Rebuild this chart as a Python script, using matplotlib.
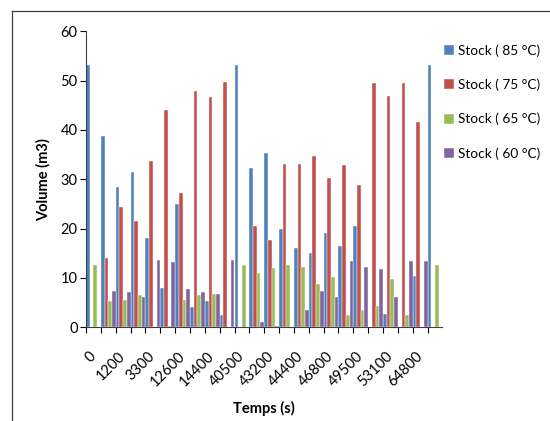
import numpy as np
import matplotlib
matplotlib.use('Agg')
import matplotlib.pyplot as plt
from matplotlib.lines import Line2D

plt.rcParams['font.family'] = ['Lato', 'DejaVu Sans']

# 24 categories, Excel only labels every other one
temps_labels = ['0', '1200', '3300', '12600', '14400', '40500',
                '43200', '44400', '46800', '49500', '53100', '64800']

stock_85 = [53.1, 38.7, 28.4, 31.4, 18.2, 7.9, 25.0, 4.2, 5.3, 2.4, 53.1, 32.3,
            35.3, 19.9, 16.1, 15.0, 19.1, 16.4, 20.5, 0, 2.6, 0, 10.3, 53.1]
stock_75 = [0, 14.1, 24.4, 21.5, 33.7, 44.1, 27.3, 47.9, 46.7, 49.7, 0, 20.5,
            17.7, 33.2, 33.2, 34.7, 30.2, 32.8, 28.8, 49.6, 46.9, 49.6, 41.7, 0]
stock_65 = [12.6, 5.3, 5.5, 6.5, 0, 0.3, 5.5, 6.5, 6.8, 0, 12.6, 11.1,
            12.0, 12.6, 12.3, 8.8, 10.1, 2.4, 3.5, 4.4, 9.7, 2.4, 0, 12.6]
stock_60 = [0, 7.4, 7.1, 6.2, 13.6, 13.2, 7.7, 7.1, 6.8, 13.6, 0, 1.1,
            0.3, 0, 3.5, 7.4, 6.2, 13.5, 12.3, 11.8, 6.2, 13.5, 13.5, 0]

series = [stock_85, stock_75, stock_65, stock_60]
names = ['Stock ( 85 °C)', 'Stock ( 75 °C)', 'Stock ( 65 °C)', 'Stock ( 60 °C)']
colors = ['#4F81BD', '#C0504D', '#9BBB59', '#8064A2']

fig = plt.figure(figsize=(5.5, 4.21), dpi=100)
ax = fig.add_axes([86 / 550, 1 - 327.3 / 421, 356.4 / 550, 296 / 421])

n = len(stock_85)
x = np.arange(n)
w = 0.25
for i, (vals, name, c) in enumerate(zip(series, names, colors)):
    ax.bar(x + (i - 1.5) * w, vals, width=w, color=c, label=name,
           edgecolor='white', linewidth=0.3)

ax.set_xlim(-0.5, n - 0.5)
ax.set_ylim(0, 60)
ax.set_yticks(range(0, 61, 10))

# boundary ticks (no labels) + labels on even categories
ax.set_xticks(np.arange(n) - 0.5)
ax.set_xticklabels([])
ax.set_xticks(np.arange(0, n, 2), minor=True)
ax.set_xticklabels(temps_labels, minor=True, rotation=45, ha='right',
                   rotation_mode='anchor', va='center', fontsize=10.5)
ax.tick_params(axis='x', which='minor', length=0, pad=19)
ax.tick_params(axis='x', which='major', length=4, width=0.8, direction='out')
ax.tick_params(axis='y', length=4, width=0.8, labelsize=10.5, pad=2)

for s in ['top', 'right']:
    ax.spines[s].set_visible(False)
ax.spines['left'].set_color('#404040')
ax.spines['bottom'].set_color('#404040')

ax.set_ylabel('Volume (m3)', fontweight='bold', fontsize=10.5, labelpad=7)
ax.set_xlabel('Temps (s)', fontweight='bold', fontsize=10.5, labelpad=9)

fig.legend(loc='upper left', bbox_to_anchor=(432 / 550, 1 - 32 / 421),
           frameon=False, handlelength=0.75, handleheight=0.75,
           handletextpad=0.25, labelspacing=1.6, fontsize=9.8)

# chart frame (partially visible in the crop)
fig.add_artist(Line2D([12 / 550, 12 / 550], [0, 1 - 11 / 421],
                      transform=fig.transFigure, color='#404040', lw=0.9))
fig.add_artist(Line2D([12 / 550, 1], [1 - 11 / 421, 1 - 11 / 421],
                      transform=fig.transFigure, color='#404040', lw=0.9))

fig.savefig('out.png', dpi=100)
